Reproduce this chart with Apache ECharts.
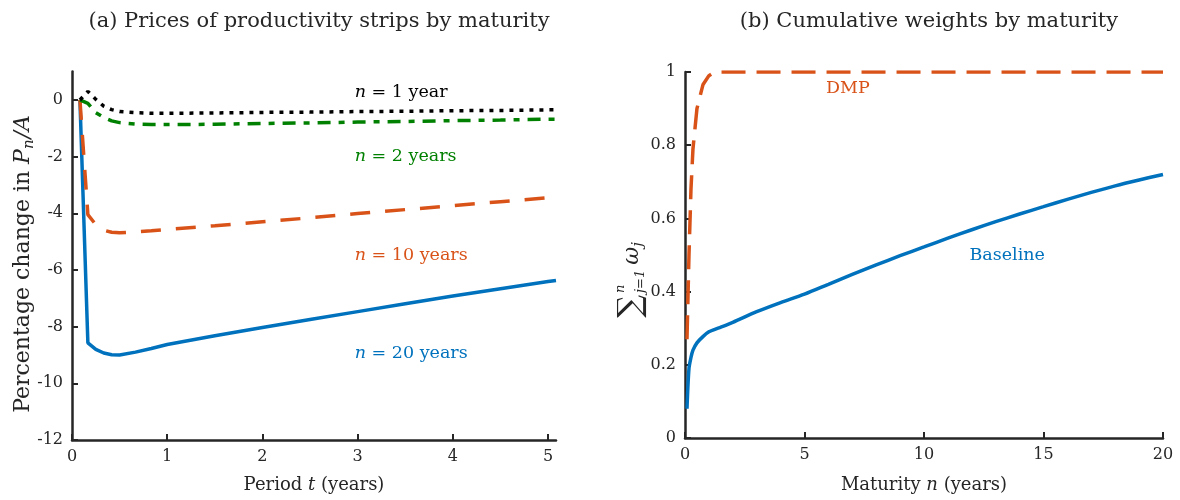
<!DOCTYPE html>
<html><head><meta charset="utf-8">
<script src="https://cdn.jsdelivr.net/npm/echarts@6/dist/echarts.min.js"></script>
<style>html,body{margin:0;padding:0;background:#fff}#c{width:1180px;height:500px}</style>
</head><body><div id="c"></div>
<script>
// ---- Panel (a): prices of productivity strips by maturity ----
const periodYears = [0.0833, 0.1667, 0.25, 0.3333, 0.4167, 0.5, 0.6667, 0.8333, 1, 1.5, 2, 2.5, 3, 3.5, 4, 4.5, 5, 5.0833];
const strip1y  = [0, 0.30, 0.02, -0.22, -0.34, -0.41, -0.45, -0.47, -0.47, -0.46, -0.44, -0.43, -0.41, -0.40, -0.38, -0.37, -0.35, -0.35];
const strip2y  = [0, -0.12, -0.45, -0.62, -0.74, -0.80, -0.85, -0.87, -0.87, -0.86, -0.83, -0.81, -0.78, -0.76, -0.73, -0.71, -0.68, -0.68];
const strip10y = [0, -4.05, -4.40, -4.60, -4.67, -4.69, -4.66, -4.62, -4.57, -4.44, -4.30, -4.16, -4.01, -3.87, -3.73, -3.59, -3.45, -3.42];
const strip20y = [0, -8.57, -8.80, -8.93, -8.99, -9.00, -8.90, -8.77, -8.63, -8.32, -8.03, -7.75, -7.47, -7.19, -6.92, -6.66, -6.41, -6.37];
const xTicksA = [0, 1, 2, 3, 4, 5];
const yTicksA = [-12, -10, -8, -6, -4, -2, 0];

// ---- Panel (b): cumulative weights by maturity ----
const maturity = [0.0833, 0.1667, 0.25, 0.3333, 0.5, 0.75, 1, 1.25, 1.5, 2, 3, 4, 5, 6, 7, 8, 9, 10, 11, 12, 13, 14, 15, 16, 17, 18, 19, 20];
const baseline = [0.08, 0.19, 0.22, 0.24, 0.26, 0.277, 0.29, 0.297, 0.303, 0.316, 0.345, 0.37, 0.393, 0.42, 0.447, 0.473, 0.498, 0.522, 0.546, 0.569, 0.591, 0.612, 0.632, 0.652, 0.671, 0.689, 0.705, 0.72];
const dmp      = [0.27, 0.50, 0.68, 0.79, 0.90, 0.965, 0.99, 1.0, 1.0, 1.0, 1.0, 1.0, 1.0, 1.0, 1.0, 1.0, 1.0, 1.0, 1.0, 1.0, 1.0, 1.0, 1.0, 1.0, 1.0, 1.0, 1.0, 1.0];
const xTicksB = [0, 5, 10, 15, 20];
const yTicksB = [0, 0.2, 0.4, 0.6, 0.8, 1];

const FONT = 'DejaVu Serif';
const AX = '#262626';
const BLUE = '#0072BD', ORANGE = '#D95319', GREEN = '#008000', BLACK = '#000000';

function zip(xs, ys){ return xs.map((x,i)=>[x, ys[i]]); }
const mctx = document.createElement('canvas').getContext('2d');
function tw(font, text){ mctx.font = font; return mctx.measureText(text).width; }

function axisCommon(ticks){
  return {
    axisLine:{show:true, onZero:false, lineStyle:{color:AX, width:2.5}},
    axisTick:{show:true, inside:true, length:6, lineStyle:{color:AX, width:2}, customValues:ticks},
    axisLabel:{color:AX, fontFamily:FONT, fontSize:16, customValues:ticks, margin:9},
    splitLine:{show:false}
  };
}

const chart = echarts.init(document.getElementById('c'), null, {renderer:'canvas'});
const richName = {
  a:{fontFamily:FONT, fontSize:18, color:AX},
  i:{fontFamily:FONT, fontSize:18, fontStyle:'italic', color:AX}
};

const option = {
  animation:false,
  backgroundColor:'#fff',
  title:[
    {text:'(a) Prices of productivity strips by maturity', left:314, top:6, textAlign:'center',
     textStyle:{fontFamily:FONT, fontSize:21, fontWeight:'normal', color:AX}},
    {text:'(b) Cumulative weights by maturity', left:924, top:6, textAlign:'center',
     textStyle:{fontFamily:FONT, fontSize:21, fontWeight:'normal', color:AX}}
  ],
  grid:[
    {left:72, right:624, top:71.6, bottom:60},
    {left:685, right:17, top:72, bottom:62}
  ],
  xAxis:[
    Object.assign(axisCommon(xTicksA), {type:'value', gridIndex:0, min:0, max:5.0833, interval:1,
      name:'{a|Period }{i|t}{a| (years)}', nameLocation:'middle', nameGap:36, nameTextStyle:{rich:richName}}),
    Object.assign(axisCommon(xTicksB), {type:'value', gridIndex:1, min:0, max:20, interval:5,
      name:'{a|Maturity }{i|n}{a| (years)}', nameLocation:'middle', nameGap:38, nameTextStyle:{rich:richName}})
  ],
  yAxis:[
    Object.assign(axisCommon(yTicksA), {type:'value', gridIndex:0, min:-12, max:1, interval:2}),
    Object.assign(axisCommon(yTicksB), {type:'value', gridIndex:1, min:0, max:1, interval:0.2})
  ],
  series:[
    {type:'line', xAxisIndex:0, yAxisIndex:0, data:zip(periodYears, strip20y), showSymbol:false,
     lineStyle:{color:BLUE, width:3.5}, z:2},
    {type:'line', xAxisIndex:0, yAxisIndex:0, data:zip(periodYears, strip10y), showSymbol:false,
     lineStyle:{color:ORANGE, width:3.5, type:[20,15]}, z:3},
    {type:'line', xAxisIndex:0, yAxisIndex:0, data:zip(periodYears, strip2y), showSymbol:false,
     lineStyle:{color:GREEN, width:3.5, type:[13,8,6,8]}, z:4},
    {type:'line', xAxisIndex:0, yAxisIndex:0, data:zip(periodYears, strip1y), showSymbol:false,
     lineStyle:{color:BLACK, width:3.5, type:[4,6]}, z:5},
    {type:'line', xAxisIndex:1, yAxisIndex:1, data:zip(maturity, baseline), showSymbol:false, smooth:0.3,
     lineStyle:{color:BLUE, width:3.5}, z:2},
    {type:'line', xAxisIndex:1, yAxisIndex:1, data:zip(maturity, dmp), showSymbol:false,
     lineStyle:{color:ORANGE, width:3.5, type:[24,11]}, z:3}
  ]
};
chart.setOption(option);

// annotations placed in data coordinates
const notes = [
  {g:0, at:[2.97, 0.28],  parts:[['n','i'],[' = 1 year','a']], color:BLACK},
  {g:0, at:[2.97, -2.0],  parts:[['n','i'],[' = 2 years','a']], color:GREEN},
  {g:0, at:[2.97, -5.5],  parts:[['n','i'],[' = 10 years','a']], color:ORANGE},
  {g:0, at:[2.97, -8.96], parts:[['n','i'],[' = 20 years','a']], color:BLUE},
  {g:1, at:[5.9, 0.955],  parts:[['DMP','a']], color:ORANGE},
  {g:1, at:[11.9, 0.5],   parts:[['Baseline','a']], color:BLUE}
];
const graphics = notes.map(n=>{
  const p = chart.convertToPixel({gridIndex:n.g}, n.at);
  return {type:'text', x:p[0], y:p[1], style:{
    text: n.parts.map(q=>'{'+q[1]+'|'+q[0]+'}').join(''),
    rich:{a:{fontFamily:FONT, fontSize:17.5, fill:n.color, color:n.color},
          i:{fontFamily:FONT, fontSize:17.5, fontStyle:'italic', fill:n.color, color:n.color}},
    fill:n.color, verticalAlign:'middle'
  }};
});

// rotated y-axis names built from measured pieces
function rotatedLabel(cx, cy, pieces){
  let x = 0; const kids = [];
  pieces.forEach(pc=>{
    const w = tw(pc.font, pc.text);
    const px = pc.x !== undefined ? pc.x : x;
    kids.push({type:'text', x:px, y:pc.dy||0, style:{text:pc.text, font:pc.font, fill:AX, verticalAlign:'middle'}});
    if (!pc.noAdvance) x = px + w + (pc.gap||0);
  });
  kids.forEach(k=>{ k.x -= x/2; });
  return {type:'group', x:cx, y:cy, rotation:Math.PI/2, children:kids};
}
graphics.push(rotatedLabel(23, 264, [
  {text:'Percentage change in ', font:'22px '+FONT},
  {text:'P', font:'italic 22px '+FONT},
  {text:'n', font:'italic 15px '+FONT, dy:6, gap:1},
  {text:'/A', font:'italic 22px '+FONT}
]));
// sum_{j=1}^{n} omega_j
graphics.push(rotatedLabel(632, 280, [
  {text:'\u2211', font:'32px '+FONT, gap:2},
  {text:'n', font:'italic 13px '+FONT, dy:-11, noAdvance:true},
  {text:'j=1', font:'italic 13px '+FONT, dy:9, gap:5},
  {text:'\u03C9', font:'italic 22px '+FONT},
  {text:'j', font:'italic 15px '+FONT, dy:6}
]));
chart.setOption({graphic:graphics});
</script></body></html>
